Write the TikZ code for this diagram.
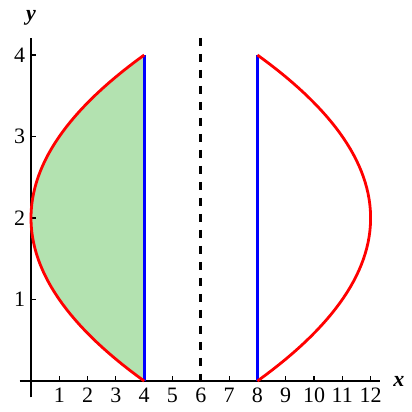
\documentclass[tikz,border=0pt]{standalone}
\usepackage{fontspec}
\setmainfont{Liberation Serif}
\usetikzlibrary{calc}
\definecolor{regiongreen}{RGB}{179,226,176}
\begin{document}
\begin{tikzpicture}[x=28.3pt,y=81.5pt,font=\fontsize{22}{24}\selectfont]
        \useasboundingbox (-1.095,-0.380) rectangle (13.428,4.675);
        \fill[regiongreen] plot[domain=0:4,samples=60] ({(\x-2)^2},\x) -- cycle;
        \draw[line width=1.5pt] (-0.4,0) coordinate (xstart) -- (12.33,0) coordinate (xend);
        \draw[line width=1.5pt] (0,-0.2) coordinate (ystart) -- (0,4.21) coordinate (yend);
        \node (xlabel) at (13.0,0) {\textbf{\textit{x}}};
        \node[inner sep=1pt] (ylabel) at (0,4.46) {\textbf{\textit{y}}};
        \foreach \i in {1,...,12}
            \draw[line width=1.1pt] (\i,0) -- (\i,0.065) node[at start,below=3pt] (xt\i) {\i};
        \foreach \j in {1,...,4}
            \draw[line width=1.1pt] (0,\j) -- (0.18,\j) node[at start,left=2pt] (yt\j) {\j};
        \draw[line width=3.2pt,dash pattern=on 8pt off 8pt] (6,4.21) coordinate (D) -- (6,0);
        \draw[blue,line width=2.8pt] (4,0) coordinate (P) -- (4,4) coordinate (Q);
        \draw[blue,line width=2.8pt] (8,0) coordinate (R) -- (8,4) coordinate (S);
        \draw[red,line width=2.8pt] plot[domain=0:4,samples=60] ({(\x-2)^2},\x);
        \draw[red,line width=2.8pt] plot[domain=0:4,samples=60] ({12-(\x-2)^2},\x);
    \end{tikzpicture}
\end{document}
